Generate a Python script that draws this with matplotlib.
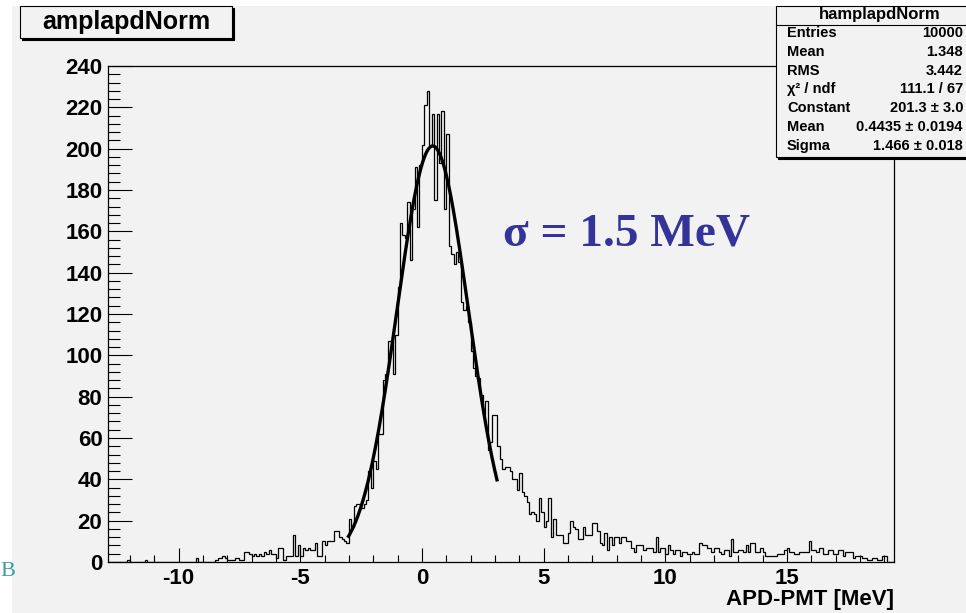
import numpy as np
import matplotlib
matplotlib.use("Agg")
import matplotlib.pyplot as plt
from matplotlib.patches import Rectangle
from matplotlib.ticker import MultipleLocator

plt.rcParams['font.family'] = ['Liberation Sans', 'DejaVu Sans']
plt.rcParams['font.weight'] = 'bold'
plt.rcParams['axes.unicode_minus'] = False

# histogram: 0.1 MeV bins starting at -12.9
x_lo = -12.9
bin_width = 0.1

# -12.9 .. -8.6
counts_far_left = [0, 0, 0, 0, 0, 0, 0, 0, 1, 0,
                   0, 0, 0, 0, 0, 1, 0, 0, 0, 0,
                   0, 0, 0, 0, 0, 0, 0, 0, 0, 0,
                   0, 0, 0, 0, 0, 0, 2, 0, 0, 0,
                   0, 0, 0, 0]
# -8.5 .. -3.1
counts_left = [1, 2, 2, 3, 2, 1, 1, 1, 2, 2,
               1, 1, 5, 5, 4, 3, 4, 3, 4, 3,
               5, 4, 6, 4, 4, 2, 7, 7, 1, 3,
               3, 3, 13, 3, 8, 3, 7, 6, 7, 6,
               6, 9, 3, 3, 10, 8, 10, 10, 10, 15,
               15, 12, 11, 10, 9]
# -3.0 .. -1.1
counts_rise = [21, 17, 27, 28, 28, 26, 28, 30, 44, 36,
               49, 45, 62, 62, 88, 91, 107, 107, 91, 110]
# -1.0 .. 2.2
counts_peak = [133, 164, 158, 157, 174, 146, 171, 191, 162, 192,
               202, 221, 228, 202, 217, 175, 217, 193, 218, 171,
               207, 153, 149, 144, 150, 145, 126, 122, 124, 116,
               102, 94, 90]
# 2.3 .. 11.0
counts_tail = [89, 81, 71, 78, 54, 58, 71, 71, 56, 50,
               45, 46, 46, 44, 40, 40, 35, 43, 34, 32,
               29, 23, 24, 23, 20, 31, 24, 17, 20, 31,
               12, 21, 13, 13, 13, 9, 9, 14, 20, 17,
               16, 11, 11, 17, 13, 13, 13, 19, 19, 15,
               9, 8, 14, 6, 12, 8, 12, 12, 9, 12,
               12, 10, 10, 7, 5, 8, 8, 8, 6, 7,
               7, 7, 5, 12, 5, 7, 7, 4, 8, 6,
               4, 6, 6, 3, 5, 5, 4, 4]
# 11.1 .. 19.3
counts_far_right = [5, 4, 4, 9, 8, 8, 7, 7, 5, 7,
                    7, 5, 4, 6, 6, 3, 11, 5, 5, 6,
                    6, 5, 8, 5, 9, 9, 5, 5, 7, 5,
                    3, 3, 3, 3, 3, 4, 4, 4, 6, 7,
                    5, 5, 4, 4, 5, 5, 5, 5, 10, 6,
                    6, 5, 7, 7, 4, 4, 6, 6, 4, 4,
                    6, 6, 3, 5, 5, 5, 2, 3, 3, 3,
                    2, 2, 1, 1, 2, 2, 1, 1, 3, 3,
                    0, 0, 0]

counts = (counts_far_left + counts_left + counts_rise + counts_peak
          + counts_tail + counts_far_right)
assert len(counts) == 323, len(counts)
edges = x_lo + bin_width * np.arange(len(counts) + 1)

# gaus fit parameters (from the stats box)
fit_const, fit_mean, fit_sigma = 201.3, 0.4435, 1.466
fit_lo, fit_hi = -3.05, 3.1

stats_title = 'hamplapdNorm'
stats_labels = ['Entries', 'Mean', 'RMS', 'χ² / ndf', 'Constant', 'Mean', 'Sigma']
stats_values = ['10000', '1.348', '3.442', '111.1 / 67', '201.3 ± 3.0',
                '0.4435 ± 0.0194', '1.466 ± 0.018']

W, H = 966, 613
GRAY = '#f2f2f2'


def fx(px):
    return px / W


def fy(py):
    return 1 - py / H


fig = plt.figure(figsize=(W / 100, H / 100), dpi=100, facecolor='white')

# canvas background
fig.add_artist(Rectangle((fx(12), 0), 1 - fx(12), fy(6), transform=fig.transFigure,
                         facecolor=GRAY, edgecolor='none', zorder=0))

ax = fig.add_axes([fx(108), fy(562), fx(894) - fx(108), fy(66) - fy(562)])
ax.set_facecolor(GRAY)
ax.stairs(counts, edges, color='black', lw=0.9, baseline=0)

xs = np.linspace(fit_lo, fit_hi, 300)
ax.plot(xs, fit_const * np.exp(-0.5 * ((xs - fit_mean) / fit_sigma) ** 2),
        color='black', lw=2.4, solid_capstyle='butt')

ax.set_xlim(-12.9, 19.4)
ax.set_ylim(0, 240)
ax.set_xticks([-10, -5, 0, 5, 10, 15])
ax.xaxis.set_minor_locator(MultipleLocator(1))
ax.yaxis.set_major_locator(MultipleLocator(20))
ax.yaxis.set_minor_locator(MultipleLocator(4))
ax.tick_params(axis='x', which='major', direction='in', length=10, width=0.8,
               labelsize=16, pad=4, top=False)
ax.tick_params(axis='x', which='minor', direction='in', length=5, width=0.8, top=False)
ax.tick_params(axis='y', which='major', direction='in', length=17, width=0.8,
               labelsize=16, pad=4, right=False)
ax.tick_params(axis='y', which='minor', direction='in', length=8.5, width=0.8, right=False)
for s in ax.spines.values():
    s.set_linewidth(0.9)

fig.text(fx(894), fy(600), 'APD-PMT [MeV]', ha='right', va='center', fontsize=16,
         weight='bold')

# annotation
fig.text(fx(503), fy(234), 'σ = 1.5 MeV', ha='left', va='center', fontsize=34,
         family=['Liberation Serif', 'DejaVu Serif'], weight='bold', color='#333399')

# title box with shadow
fig.add_artist(Rectangle((fx(22), fy(40)), fx(212), fy(6) - fy(40) - 2 / H,
                         transform=fig.transFigure, facecolor='black', edgecolor='black',
                         lw=0.8, zorder=5))
fig.add_artist(Rectangle((fx(20), fy(38)), fx(212), fy(6) - fy(38),
                         transform=fig.transFigure, facecolor=GRAY, edgecolor='black',
                         lw=0.8, zorder=6))
fig.text(fx(126), fy(22), 'amplapdNorm', ha='center', va='center', fontsize=18,
         weight='bold', zorder=7)

# stats box with shadow
fig.add_artist(Rectangle((fx(778), fy(159)), 1.0, fy(8) - fy(159),
                         transform=fig.transFigure, facecolor='black', edgecolor='black',
                         lw=0.8, zorder=5))
fig.add_artist(Rectangle((fx(776), fy(157)), 1.0, fy(6) - fy(157),
                         transform=fig.transFigure, facecolor=GRAY, edgecolor='black',
                         lw=0.8, zorder=6))
fig.add_artist(plt.Line2D([fx(776), 1], [fy(25), fy(25)], transform=fig.transFigure,
                          color='black', lw=0.8, zorder=7))
fig.text(fx(880), fy(15), stats_title, ha='center', va='center', fontsize=12,
         weight='bold', zorder=7)
row_y = [33, 52, 71, 89, 108, 127, 146]
for yy, lab, val in zip(row_y, stats_labels, stats_values):
    fig.text(fx(787), fy(yy), lab, ha='left', va='center', fontsize=10.5,
             weight='bold', zorder=7)
    fig.text(fx(963), fy(yy), val, ha='right', va='center', fontsize=10.5,
             weight='bold', zorder=7)

# slide letter at the left edge
fig.text(0.0, fy(572), 'B', ha='left', va='center', fontsize=16,
         family=['Liberation Serif', 'DejaVu Serif'], weight='normal', color='#3a9e9e')

fig.savefig('out.png', dpi=100, facecolor=fig.get_facecolor())
